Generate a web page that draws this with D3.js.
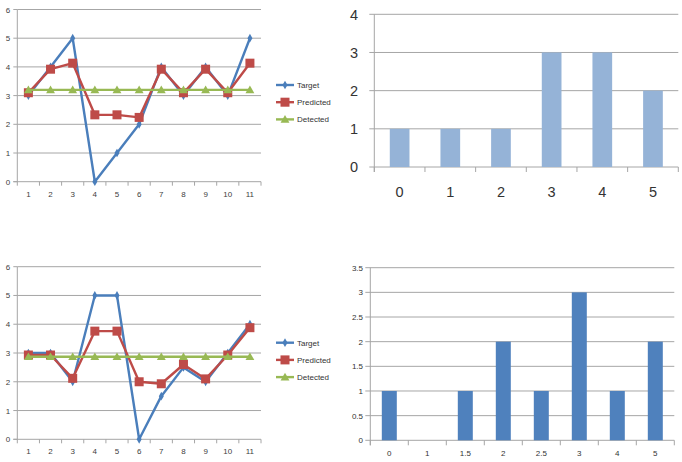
<!DOCTYPE html>
<html>
<head>
<meta charset="utf-8">
<script src="https://cdn.jsdelivr.net/npm/d3@7"></script>
<style>
  body { margin: 0; background: #fff; }
  svg { display: block; font-family: 'Liberation Sans', Arial, sans-serif; }
</style>
</head>
<body>
<div id="root"></div>
<script>
// data
const steps = [1, 2, 3, 4, 5, 6, 7, 8, 9, 10, 11]
const seriesNames = ['Target', 'Predicted', 'Detected']

const targetA = [3, 4, 5, 0, 1, 2, 4, 3, 4, 3, 5]
const predictedA = [3.1, 3.92, 4.13, 2.33, 2.33, 2.24, 3.92, 3.1, 3.92, 3.1, 4.13]
const detectedA = [3.2, 3.2, 3.2, 3.2, 3.2, 3.2, 3.2, 3.2, 3.2, 3.2, 3.2]

const targetB = [3, 3, 2, 5, 5, 0, 1.5, 2.5, 2, 3, 4]
const predictedB = [2.93, 2.93, 2.12, 3.76, 3.76, 2.0, 1.93, 2.6, 2.1, 2.93, 3.88]
const detectedB = [2.87, 2.87, 2.87, 2.87, 2.87, 2.87, 2.87, 2.87, 2.87, 2.87, 2.87]

const histCatsA = ['0', '1', '2', '3', '4', '5']
const histValsA = [1, 1, 1, 3, 3, 2]
const yTicksA = [0, 1, 2, 3, 4]

const histCatsB = ['0', '1', '1.5', '2', '2.5', '3', '4', '5']
const histValsB = [1, 0, 1, 2, 1, 3, 1, 2]
const yTicksB = [0, 0.5, 1, 1.5, 2, 2.5, 3, 3.5]

const lineTicks = [0, 1, 2, 3, 4, 5, 6]
const colors = { Target: '#4a7ebb', Predicted: '#be4b48', Detected: '#98b954' }
const gridColor = '#a6a6a6'

const svg = d3.select('#root').append('svg')
  .attr('width', 682)
  .attr('height', 462)

function marker (g, name, x, y) {
  if (name === 'Target') {
    g.append('path')
      .attr('d', d3.symbol(d3.symbolDiamond, 22)())
      .attr('transform', `translate(${x},${y})`)
      .attr('fill', colors.Target)
  } else if (name === 'Predicted') {
    g.append('rect')
      .attr('x', x - 4.5).attr('y', y - 4.5)
      .attr('width', 9).attr('height', 9)
      .attr('fill', colors.Predicted)
  } else {
    g.append('path')
      .attr('d', d3.symbol(d3.symbolTriangle, 34)())
      .attr('transform', `translate(${x},${y + 0.8})`)
      .attr('fill', colors.Detected)
  }
}

function lineChart (dims, series) {
  const g = svg.append('g')
  const x = d3.scaleBand().domain(steps).range([dims.left, dims.right])
  const y = d3.scaleLinear().domain([0, 6]).range([dims.bottom, dims.top])

  // gridlines
  g.selectAll('.grid').data(lineTicks.filter(d => d > 0)).join('line')
    .attr('x1', dims.left).attr('x2', dims.right)
    .attr('y1', d => y(d)).attr('y2', d => y(d))
    .attr('stroke', gridColor).attr('stroke-width', 1)

  // axes
  g.append('line')
    .attr('x1', dims.left).attr('x2', dims.left)
    .attr('y1', dims.top).attr('y2', dims.bottom)
    .attr('stroke', gridColor)
  g.append('line')
    .attr('x1', dims.left - 4).attr('x2', dims.right)
    .attr('y1', dims.bottom).attr('y2', dims.bottom)
    .attr('stroke', gridColor)
  g.selectAll('.ytick').data(lineTicks).join('line')
    .attr('x1', dims.left - 4).attr('x2', dims.left)
    .attr('y1', d => y(d)).attr('y2', d => y(d))
    .attr('stroke', gridColor)
  const bounds = steps.map(s => x(s)).concat([dims.right])
  g.selectAll('.xtick').data(bounds).join('line')
    .attr('x1', d => d).attr('x2', d => d)
    .attr('y1', dims.bottom).attr('y2', dims.bottom + 4)
    .attr('stroke', gridColor)

  g.selectAll('.ylab').data(lineTicks).join('text')
    .attr('x', dims.left - 7).attr('y', d => y(d) + 3)
    .attr('text-anchor', 'end')
    .attr('font-size', 8).attr('fill', '#404040')
    .text(d => d)
  g.selectAll('.xlab').data(steps).join('text')
    .attr('x', d => x(d) + x.bandwidth() / 2).attr('y', dims.bottom + 15)
    .attr('text-anchor', 'middle')
    .attr('font-size', 8).attr('fill', '#404040')
    .text(d => d)

  const line = d3.line()
    .x((d, i) => x(steps[i]) + x.bandwidth() / 2)
    .y(d => y(d))

  // draw Detected last so it sits on top like in the picture
  const order = ['Target', 'Predicted', 'Detected']
  order.forEach(name => {
    const vals = series[name]
    g.append('path')
      .attr('d', line(vals))
      .attr('fill', 'none')
      .attr('stroke', colors[name])
      .attr('stroke-width', 2.4)
      .attr('stroke-linejoin', 'round')
    vals.forEach((v, i) => marker(g, name, x(steps[i]) + x.bandwidth() / 2, y(v)))
  })

  // legend
  seriesNames.forEach((name, i) => {
    const ly = dims.legendTop + i * 17.2
    g.append('line')
      .attr('x1', 276).attr('x2', 294)
      .attr('y1', ly).attr('y2', ly)
      .attr('stroke', colors[name]).attr('stroke-width', 2.4)
    marker(g, name, 285, ly)
    g.append('text')
      .attr('x', 297).attr('y', ly + 3)
      .attr('font-size', 8).attr('fill', '#333')
      .text(name)
  })
}

function barChart (dims, cats, vals, ticks, opts) {
  const g = svg.append('g')
  const x = d3.scaleBand().domain(cats).range([dims.left, dims.right])
  const y = d3.scaleLinear().domain([0, d3.max(ticks)]).range([dims.bottom, dims.top])

  g.selectAll('.grid').data(ticks.filter(d => d > 0)).join('line')
    .attr('x1', dims.left - 5).attr('x2', dims.right)
    .attr('y1', d => y(d)).attr('y2', d => y(d))
    .attr('stroke', gridColor)
  g.append('line')
    .attr('x1', dims.left).attr('x2', dims.left)
    .attr('y1', dims.top).attr('y2', dims.bottom + 5)
    .attr('stroke', gridColor)
  g.append('line')
    .attr('x1', dims.left - 5).attr('x2', dims.right)
    .attr('y1', dims.bottom).attr('y2', dims.bottom)
    .attr('stroke', gridColor)
  const bounds = cats.map(c => x(c)).concat([dims.right])
  g.selectAll('.xtick').data(bounds).join('line')
    .attr('x1', d => d).attr('x2', d => d)
    .attr('y1', dims.bottom).attr('y2', dims.bottom + 5)
    .attr('stroke', gridColor)

  g.selectAll('rect').data(vals).join('rect')
    .attr('x', (d, i) => x(cats[i]) + (x.bandwidth() - opts.barWidth) / 2)
    .attr('y', d => y(d))
    .attr('width', opts.barWidth)
    .attr('height', d => dims.bottom - y(d))
    .attr('fill', opts.color)

  g.selectAll('.ylab').data(ticks).join('text')
    .attr('x', opts.yLabX).attr('y', d => y(d) + opts.fontSize * 0.36)
    .attr('text-anchor', 'end')
    .attr('font-size', opts.fontSize).attr('fill', '#333')
    .text(d => d)
  g.selectAll('.xlab').data(cats).join('text')
    .attr('x', d => x(d) + x.bandwidth() / 2).attr('y', opts.xLabY)
    .attr('text-anchor', 'middle')
    .attr('font-size', opts.fontSize).attr('fill', '#333')
    .text(d => d)
}

lineChart({ left: 17.3, right: 261, top: 9.5, bottom: 181.7, legendTop: 85 },
  { Target: targetA, Predicted: predictedA, Detected: detectedA })
lineChart({ left: 17.3, right: 261, top: 266.7, bottom: 439.3, legendTop: 342.7 },
  { Target: targetB, Predicted: predictedB, Detected: detectedB })

barChart({ left: 374.3, right: 678.3, top: 14.3, bottom: 167 }, histCatsA, histValsA, yTicksA,
  { barWidth: 19.7, color: '#95b3d7', fontSize: 14.5, yLabX: 358, xLabY: 197 })
barChart({ left: 370.3, right: 674.3, top: 267.7, bottom: 440.3 }, histCatsB, histValsB, yTicksB,
  { barWidth: 15, color: '#4f81bd', fontSize: 8, yLabX: 363, xLabY: 455.5 })
</script>
</body>
</html>
